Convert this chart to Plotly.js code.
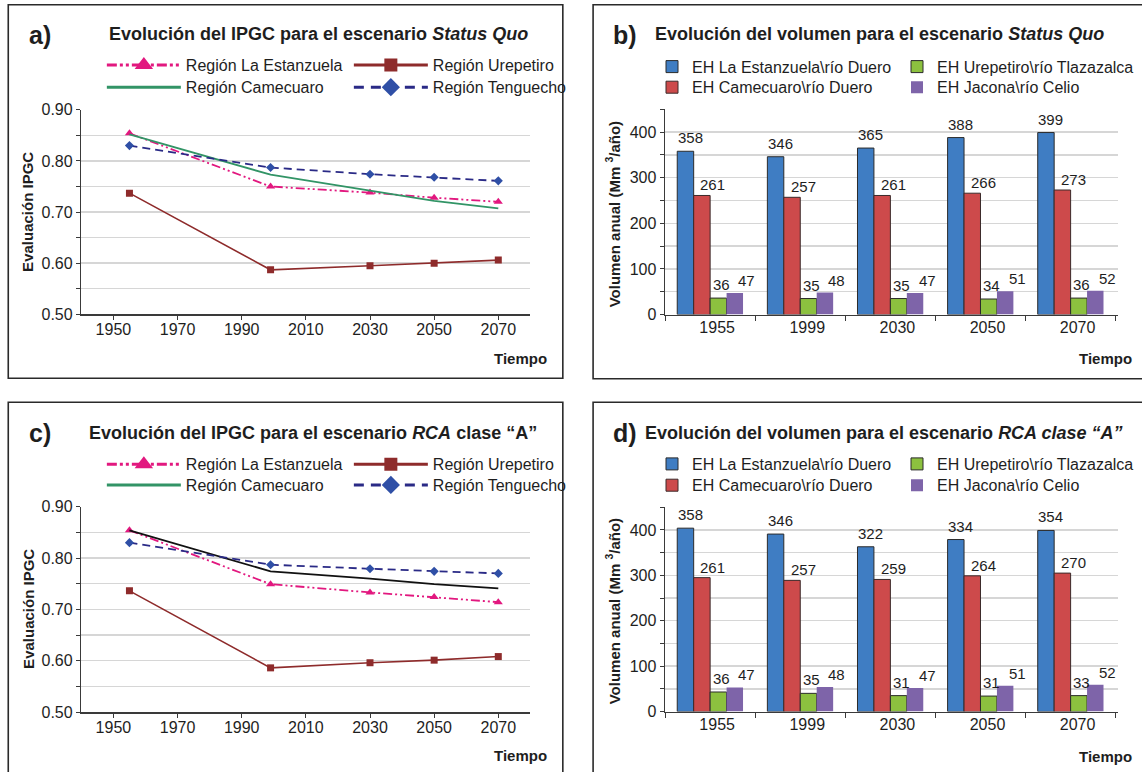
<!DOCTYPE html>
<html><head><meta charset="utf-8">
<script src="https://cdn.plot.ly/plotly-3.0.1.min.js"></script>
<style>html,body{margin:0;padding:0;background:#fff}#chart{width:1142px;height:772px}</style>
</head><body><div id="chart"></div>
<script>
// ---------- DATA ----------
const years = [1955, 1999, 2030, 2050, 2070];
const yearLabels = ['1955', '1999', '2030', '2050', '2070'];

const regionNames = ['Región La Estanzuela', 'Región Urepetiro', 'Región Camecuaro', 'Región Tenguecho'];
const stationNames = ['EH La Estanzuela\\río Duero', 'EH Urepetiro\\río Tlazazalca', 'EH Camecuaro\\río Duero', 'EH Jacona\\río Celio'];

// Panel a: IPGC, escenario Status Quo
const ipgcA_estanzuela = [0.854, 0.750, 0.738, 0.728, 0.720];
const ipgcA_urepetiro  = [0.737, 0.587, 0.595, 0.600, 0.606];
const ipgcA_camecuaro  = [0.852, 0.773, 0.742, 0.722, 0.707];
const ipgcA_tenguecho  = [0.830, 0.787, 0.774, 0.768, 0.761];

// Panel c: IPGC, escenario RCA clase "A"
const ipgcC_estanzuela = [0.854, 0.749, 0.733, 0.724, 0.714];
const ipgcC_urepetiro  = [0.736, 0.586, 0.596, 0.601, 0.608];
const ipgcC_camecuaro  = [0.854, 0.774, 0.760, 0.749, 0.741];
const ipgcC_tenguecho  = [0.830, 0.787, 0.779, 0.774, 0.770];

// Panel b: volumen, escenario Status Quo (bar heights = labels)
const volB_estanzuela = [358, 346, 365, 388, 399];
const volB_camecuaro  = [261, 257, 261, 266, 273];
const volB_urepetiro  = [36, 35, 35, 34, 36];
const volB_jacona     = [47, 48, 47, 51, 52];

// Panel d: volumen, escenario RCA clase "A" (bar heights as drawn)
const volD_estanzuela = [404, 391, 363, 379, 399];
const volD_camecuaro  = [295, 289, 291, 299, 305];
const volD_urepetiro  = [43, 40, 35, 34, 35];
const volD_jacona     = [53, 54, 52, 57, 59];
// Panel d: printed labels
const lblD_estanzuela = [358, 346, 322, 334, 354];
const lblD_camecuaro  = [261, 257, 259, 264, 270];
const lblD_urepetiro  = [36, 35, 31, 31, 33];
const lblD_jacona     = [47, 48, 47, 51, 52];

// ---------- STYLE ----------
const W = 1142, H = 772;
const px = v => v / W;
const py = v => 1 - v / H;
const FONT = 'Liberation Sans, Arial, Helvetica, sans-serif';
const TXT = '#1e1e1e';
const GRID = '#d6d6d6';
const AXC = '#3a3a3a';

const C_PINK = '#e2187f', C_MAROON = '#8e2b2b', C_GREEN = '#329466', C_NAVY = '#2a2a86', C_DIAM = '#2f4fa6';
const B_BLUE = '#3f7dc3', B_RED = '#cd4a4b', B_GREEN = '#8cc13f', B_PURPLE = '#7e64a9';
const DASH_DDOT = '9px,3px,2px,3px,2px,3px';
const BARGAP = 0.27;

const traces = [];
const ann = [];

function lineSet(xa, ya, est, ure, cam, ten, camLineColor, legTop, legBot) {
  traces.push({x: years, y: est, xaxis: xa, yaxis: ya, mode: 'lines+markers', showlegend: false,
    line: {color: C_PINK, width: 1.8, dash: DASH_DDOT}, marker: {symbol: 'triangle-up', size: 8, color: C_PINK}});
  traces.push({x: years, y: ure, xaxis: xa, yaxis: ya, mode: 'lines+markers', showlegend: false,
    line: {color: C_MAROON, width: 1.6}, marker: {symbol: 'square', size: 7, color: C_MAROON}});
  traces.push({x: years, y: cam, xaxis: xa, yaxis: ya, mode: 'lines', showlegend: false,
    line: {color: camLineColor, width: 1.8}});
  traces.push({x: years, y: ten, xaxis: xa, yaxis: ya, mode: 'lines+markers', showlegend: false,
    line: {color: C_NAVY, width: 1.8, dash: '8px,5px'}, marker: {symbol: 'diamond', size: 7, color: C_DIAM}});
  // legend entries (no data)
  traces.push({x: [null], y: [null], xaxis: xa, yaxis: ya, mode: 'lines+markers', name: regionNames[0], legend: legTop,
    line: {color: C_PINK, width: 3, dash: '10px,3px,3px,3px,3px,3px'}, marker: {symbol: 'triangle-up', size: 16, color: C_PINK}});
  traces.push({x: [null], y: [null], xaxis: xa, yaxis: ya, mode: 'lines+markers', name: regionNames[1], legend: legTop,
    line: {color: C_MAROON, width: 3}, marker: {symbol: 'square', size: 13, color: C_MAROON}});
  traces.push({x: [null], y: [null], xaxis: xa, yaxis: ya, mode: 'lines', name: regionNames[2], legend: legBot,
    line: {color: C_GREEN, width: 3}});
  traces.push({x: [null], y: [null], xaxis: xa, yaxis: ya, mode: 'lines+markers', name: regionNames[3], legend: legBot,
    line: {color: C_NAVY, width: 3, dash: '10px,7px'}, marker: {symbol: 'diamond', size: 14, color: C_DIAM}});
}

function barSet(xa, ya, est, ure, cam, jac, lEst, lUre, lCam, lJac, legTop, legBot) {
  const common = {type: 'bar', x: yearLabels, xaxis: xa, yaxis: ya, hoverinfo: 'y'};
  traces.push(Object.assign({}, common, {y: est, name: stationNames[0], legend: legTop,
    marker: {color: B_BLUE, line: {color: '#2b2b2b', width: 1}}}));
  traces.push(Object.assign({}, common, {y: cam, name: stationNames[2], legend: legBot,
    marker: {color: B_RED, line: {color: '#3a2a2a', width: 1}}}));
  traces.push(Object.assign({}, common, {y: ure, name: stationNames[1], legend: legTop,
    marker: {color: B_GREEN, line: {color: '#2b2b2b', width: 1}}}));
  traces.push(Object.assign({}, common, {y: jac, name: stationNames[3], legend: legBot,
    marker: {color: B_PURPLE, line: {width: 0}}}));
  // value labels (as printed in the figure), placed over each bar of the group
  const series = [[est, lEst], [cam, lCam], [ure, lUre], [jac, lJac]];
  const bw = (1 - BARGAP) / series.length;
  const xshift = [5, 11, 3, 12];
  const yshift = [3, 0, 3, 2];
  series.forEach(function (s, i) {
    const off = -(1 - BARGAP) / 2 + bw * (i + 0.5);
    s[0].forEach(function (v, j) {
      ann.push({xref: xa, yref: ya, x: j + off, y: v, text: String(s[1][j]), showarrow: false,
        xanchor: 'center', yanchor: 'bottom', xshift: xshift[i], yshift: yshift[i],
        font: {size: 15, color: TXT, family: FONT}});
    });
  });
}

lineSet('x', 'y', ipgcA_estanzuela, ipgcA_urepetiro, ipgcA_camecuaro, ipgcA_tenguecho, C_GREEN, 'legend', 'legend2');
barSet('x2', 'y2', volB_estanzuela, volB_urepetiro, volB_camecuaro, volB_jacona,
  volB_estanzuela, volB_urepetiro, volB_camecuaro, volB_jacona, 'legend3', 'legend4');
lineSet('x3', 'y3', ipgcC_estanzuela, ipgcC_urepetiro, ipgcC_camecuaro, ipgcC_tenguecho, '#111111', 'legend5', 'legend6');
barSet('x4', 'y4', volD_estanzuela, volD_urepetiro, volD_camecuaro, volD_jacona,
  lblD_estanzuela, lblD_urepetiro, lblD_camecuaro, lblD_jacona, 'legend7', 'legend8');

// ---------- AXES ----------
function lineX(domain, anchor) {
  return {domain: domain, anchor: anchor, range: [1940, 2080], tick0: 1950, dtick: 20, showgrid: false, zeroline: false,
    showline: true, linecolor: AXC, linewidth: 1.5, ticks: 'outside', ticklen: 4, tickcolor: AXC, ticklabelstandoff: -4,
    tickfont: {size: 16, color: TXT}, fixedrange: true};
}
function lineY(domain, anchor) {
  return {domain: domain, anchor: anchor, range: [0.5, 0.9], dtick: 0.1, tickformat: '.2f', showgrid: true, gridcolor: GRID, gridwidth: 1.5,
    zeroline: false, showline: true, linecolor: AXC, linewidth: 1.5, ticks: 'outside', ticklen: 4, tickcolor: AXC,
    minor: {dtick: 0.05, showgrid: true, gridcolor: GRID, gridwidth: 1.5, ticks: 'outside', ticklen: 4, tickcolor: AXC},
    tickfont: {size: 16, color: TXT}, fixedrange: true};
}
function barX(domain, anchor) {
  return {domain: domain, anchor: anchor, type: 'category', tickson: 'boundaries', ticks: 'outside', ticklen: 5, tickcolor: AXC,
    showline: true, linecolor: AXC, linewidth: 1.5, showgrid: false, zeroline: false, ticklabelshift: 7, ticklabelstandoff: -2,
    tickfont: {size: 16, color: TXT}, fixedrange: true};
}
function barY(domain, anchor) {
  return {domain: domain, anchor: anchor, range: [0, 450], dtick: 100, showgrid: true, gridcolor: GRID, gridwidth: 1.5,
    zeroline: false, showline: true, linecolor: AXC, linewidth: 1.5, ticks: 'outside', ticklen: 4, tickcolor: AXC,
    minor: {dtick: 50, showgrid: true, gridcolor: GRID, gridwidth: 1.5, ticks: 'outside', ticklen: 4, tickcolor: AXC},
    tickfont: {size: 16, color: TXT}, fixedrange: true};
}

const domLX = [px(81.7), px(532.7)];
const domBX = [px(668), px(1122.7)];
const domTopL = [py(314.3), py(109.8)];
const domTopB = [py(314.5), py(109.3)];
const domBotL = [py(712), py(506.7)];
const domBotB = [py(711.5), py(507.3)];

// ---------- LEGENDS ----------
function lineLegend(xp, yp) {
  return {orientation: 'h', x: px(xp), y: py(yp), xref: 'paper', yref: 'paper', xanchor: 'left', yanchor: 'middle',
    itemwidth: 74, entrywidth: 158, entrywidthmode: 'pixels', bgcolor: 'rgba(0,0,0,0)', borderwidth: 0,
    font: {size: 16, color: TXT, family: FONT}, traceorder: 'normal', itemclick: false, itemdoubleclick: false};
}
function barLegend(xp, yp) {
  return {orientation: 'h', x: px(xp), y: py(yp), xref: 'paper', yref: 'paper', xanchor: 'left', yanchor: 'middle',
    itemwidth: 30, entrywidth: 200, entrywidthmode: 'pixels', bgcolor: 'rgba(0,0,0,0)', borderwidth: 0,
    font: {size: 16, color: TXT, family: FONT}, traceorder: 'normal', itemclick: false, itemdoubleclick: false};
}

// ---------- ANNOTATIONS ----------
function txt(x, y, text, size, opts) {
  ann.push(Object.assign({x: px(x), y: py(y), xref: 'paper', yref: 'paper', text: text, showarrow: false,
    xanchor: 'left', yanchor: 'middle', font: {size: size, color: TXT, family: FONT}}, opts || {}));
}
// panel letters
txt(27, 35, '<b>a)</b>', 25); txt(614, 35, '<b>b)</b>', 25);
txt(27, 433, '<b>c)</b>', 25); txt(614, 433, '<b>d)</b>', 25);
// titles
txt(107, 34, '<b>Evolución del IPGC para el escenario <i>Status Quo</i></b>', 18);
txt(656, 34, '<b>Evolución del volumen para el escenario <i>Status Quo</i></b>', 18);
txt(87.5, 433, '<b>Evolución del IPGC para el escenario <i>RCA</i> clase “A”</b>', 18);
txt(646, 433, '<b>Evolución del volumen para el escenario <i>RCA clase “A”</i></b>', 18);
// axis titles
txt(523, 358, '<b>Tiempo</b>', 15, {xanchor: 'center'});
txt(1110, 358, '<b>Tiempo</b>', 15, {xanchor: 'center'});
txt(523, 755, '<b>Tiempo</b>', 15, {xanchor: 'center'});
txt(1110, 756, '<b>Tiempo</b>', 15, {xanchor: 'center'});
txt(28, 212, '<b>Evaluación IPGC</b>', 15, {xanchor: 'center', textangle: -90});
txt(28, 609, '<b>Evaluación IPGC</b>', 15, {xanchor: 'center', textangle: -90});
txt(615, 214, '<b>Volumen anual (Mm <sup>3</sup>/año)</b>', 15, {xanchor: 'center', textangle: -90});
txt(615, 611, '<b>Volumen anual (Mm <sup>3</sup>/año)</b>', 15, {xanchor: 'center', textangle: -90});

// ---------- PANEL BORDERS ----------
function box(x0, y0, x1, y1) {
  return {type: 'rect', xref: 'paper', yref: 'paper', x0: px(x0), x1: px(x1), y0: py(y0), y1: py(y1),
    line: {color: '#2a2a2a', width: 1.6}, fillcolor: 'rgba(0,0,0,0)', layer: 'below'};
}
const shapes = [box(8.3, 4.7, 565.3, 378.3), box(595.7, 4.7, 1160, 378.7), box(8.3, 402.3, 565.3, 790), box(595.7, 402.3, 1160, 790)];

const layout = {
  width: W, height: H, margin: {l: 0, r: 0, t: 0, b: 0}, paper_bgcolor: '#ffffff', plot_bgcolor: 'rgba(0,0,0,0)',
  font: {family: FONT, color: TXT, size: 15},
  barmode: 'group', bargap: BARGAP, bargroupgap: 0,
  xaxis: lineX(domLX, 'y'), yaxis: lineY(domTopL, 'x'),
  xaxis2: barX(domBX, 'y2'), yaxis2: barY(domTopB, 'x2'),
  xaxis3: lineX(domLX, 'y3'), yaxis3: lineY(domBotL, 'x3'),
  xaxis4: barX(domBX, 'y4'), yaxis4: barY(domBotB, 'x4'),
  legend: lineLegend(102.3, 65), legend2: lineLegend(102.3, 87.3),
  legend3: barLegend(655, 66.7), legend4: barLegend(655, 87.3),
  legend5: lineLegend(102.3, 464.3), legend6: lineLegend(102.3, 485),
  legend7: barLegend(655, 464), legend8: barLegend(655, 485.3),
  annotations: ann, shapes: shapes, showlegend: true, hovermode: false
};

Plotly.newPlot('chart', traces, layout, {displayModeBar: false, staticPlot: true});
</script>
</body></html>
